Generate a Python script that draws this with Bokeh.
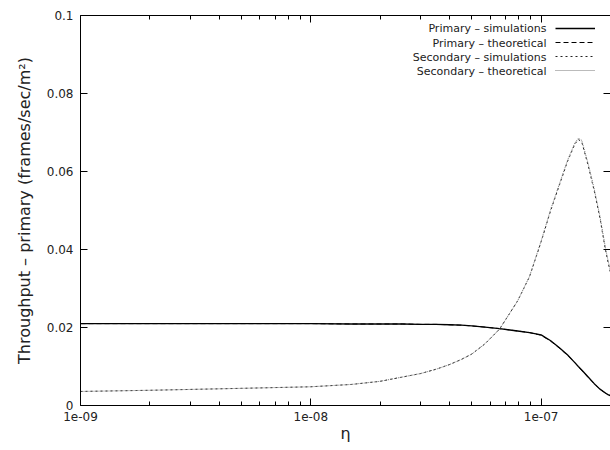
from bokeh.plotting import figure
from bokeh.models import (FixedTicker, CustomJSTickFormatter, LogAxis, LinearAxis,
                          Label, Legend, LegendItem, Range1d)
from bokeh.embed import file_html
from bokeh.resources import INLINE

# ---- data ----
eta = [1e-9, 2e-9, 5e-9, 1e-8, 1.5e-8, 2e-8, 2.5e-8, 3e-8, 3.5e-8, 4e-8, 4.5e-8,
       5e-8, 5.7e-8, 6.6e-8, 7.9e-8, 8.9e-8, 1e-7, 1.1e-7, 1.2e-7, 1.3e-7, 1.4e-7,
       1.45e-7, 1.5e-7, 1.6e-7, 1.7e-7, 1.8e-7, 1.9e-7, 1.95e-7, 2e-7]

primary_sim = [0.0210, 0.0210, 0.0210, 0.0210, 0.0209, 0.0209, 0.0209, 0.0208, 0.0208,
               0.0207, 0.0206, 0.0204, 0.0201, 0.0197, 0.0191, 0.0187, 0.0181, 0.0166,
               0.0148, 0.0130, 0.0110, 0.0100, 0.0091, 0.0073, 0.0056, 0.0042, 0.0032,
               0.0028, 0.0025]
primary_theory = [0.0210, 0.0210, 0.0210, 0.0210, 0.0209, 0.0209, 0.0209, 0.0208, 0.0208,
                  0.0207, 0.0206, 0.0204, 0.0201, 0.0197, 0.0191, 0.0187, 0.0180, 0.0165,
                  0.0147, 0.0129, 0.0110, 0.0100, 0.0090, 0.0072, 0.0056, 0.0042, 0.0032,
                  0.0028, 0.0025]
secondary_sim = [0.0036, 0.0039, 0.0044, 0.0048, 0.0054, 0.0062, 0.0073, 0.0082, 0.0093,
                 0.0105, 0.0118, 0.0132, 0.0158, 0.0196, 0.0268, 0.0330, 0.0420, 0.0500,
                 0.0565, 0.0625, 0.0670, 0.0682, 0.0676, 0.0615, 0.0550, 0.0480, 0.0400,
                 0.0368, 0.0340]
secondary_theory = [0.0036, 0.0039, 0.0044, 0.0048, 0.0054, 0.0062, 0.0073, 0.0082, 0.0093,
                    0.0105, 0.0118, 0.0132, 0.0158, 0.0196, 0.0268, 0.0331, 0.0422, 0.0503,
                    0.0568, 0.0628, 0.0673, 0.0685, 0.0680, 0.0620, 0.0555, 0.0485, 0.0405,
                    0.0373, 0.0345]

x_major = [1e-9, 1e-8, 1e-7]
x_minor = [m * 10.0 ** e for e in (-9, -8, -7) for m in range(2, 10)]
y_ticks = [0, 0.02, 0.04, 0.06, 0.08, 0.1]

series_labels = ["Primary \u2013 simulations", "Primary \u2013 theoretical",
                 "Secondary \u2013 simulations", "Secondary \u2013 theoretical"]
x_title = "\u03b7"
y_title = "Throughput \u2013 primary (frames/sec/m\u00b2)"

FONT = "DejaVu Sans"
TXT = "#222222"

p = figure(width=610, height=450, x_axis_type="log",
           x_range=Range1d(1e-9, 2e-7), y_range=Range1d(0, 0.1),
           output_backend="svg", toolbar_location=None,
           min_border_left=80, min_border_right=0, min_border_top=15,
           min_border_bottom=45)
p.outline_line_color = None
p.xgrid.visible = False
p.ygrid.visible = False

x_ticker = FixedTicker(ticks=x_major, minor_ticks=x_minor)
y_ticker = FixedTicker(ticks=y_ticks)
x_fmt = CustomJSTickFormatter(code="""
const e = Math.round(Math.log10(tick));
return '1e' + (e < 0 ? '-' : '+') + String(Math.abs(e)).padStart(2, '0');
""")
y_fmt = CustomJSTickFormatter(code="return tick.toFixed(2).replace(/\\.?0+$/, '');")
blank = CustomJSTickFormatter(code="return '';")


def style_axis(ax, labels=True):
    ax.axis_line_color = "black"
    ax.axis_line_width = 1
    ax.major_tick_in = 7
    ax.major_tick_out = 0
    ax.minor_tick_in = 4
    ax.minor_tick_out = 0
    ax.major_tick_line_color = "black"
    ax.major_tick_line_width = 1
    ax.minor_tick_line_color = "black"
    ax.minor_tick_line_width = 1
    ax.major_label_text_font = FONT
    ax.major_label_text_font_size = "12px" if labels else "0px"
    ax.major_label_text_color = TXT
    ax.axis_label_text_font = FONT
    ax.axis_label_text_font_style = "normal"
    ax.axis_label_text_color = TXT


xa = p.xaxis[0]
xa.ticker = x_ticker
xa.formatter = x_fmt
style_axis(xa)
xa.major_label_standoff = 6
xa.axis_label = x_title
xa.axis_label_text_font_size = "16px"
xa.axis_label_standoff = 0

ya = p.yaxis[0]
ya.ticker = y_ticker
ya.formatter = y_fmt
style_axis(ya)
ya.minor_tick_line_color = None
ya.major_label_standoff = 7
ya.axis_label = y_title
ya.axis_label_text_font_size = "16px"
ya.axis_label_standoff = 10

top = LogAxis(ticker=x_ticker, formatter=blank)
style_axis(top, labels=False)
top.major_label_standoff = 0
p.add_layout(top, "above")

right = LinearAxis(ticker=y_ticker, formatter=blank)
style_axis(right, labels=False)
right.axis_line_color = None
right.minor_tick_line_color = None
right.major_label_standoff = 0
p.add_layout(right, "right")

r1 = p.line(eta, primary_sim, line_color="black", line_width=1.3)
r2 = p.line(eta, primary_theory, line_color="black", line_width=1, line_dash="5 3")
r3 = p.line(eta, secondary_sim, line_color="#222222", line_width=1, line_dash="2 3")
r4 = p.line(eta, secondary_theory, line_color="#777777", line_width=1, line_dash="1 1")

# legend: sample lines only (texts drawn to their left, right-aligned)
legend = Legend(items=[LegendItem(label=" ", renderers=[r]) for r in (r1, r2, r3, r4)],
                location=(475, 328), glyph_width=40, glyph_height=14,
                label_height=14, label_width=0, spacing=0, padding=0, margin=0,
                label_standoff=0, label_text_font_size="1px",
                background_fill_alpha=0, border_line_color=None)
p.add_layout(legend)

row_y = [377, 362.5, 348, 334]
for txt, yy in zip(series_labels, row_y):
    p.add_layout(Label(x=466, y=yy, x_units="screen", y_units="screen", text=txt,
                       text_align="right", text_baseline="middle",
                       text_font=FONT, text_font_size="11px", text_color=TXT))

open("out.html", "w").write(file_html(p, INLINE))
